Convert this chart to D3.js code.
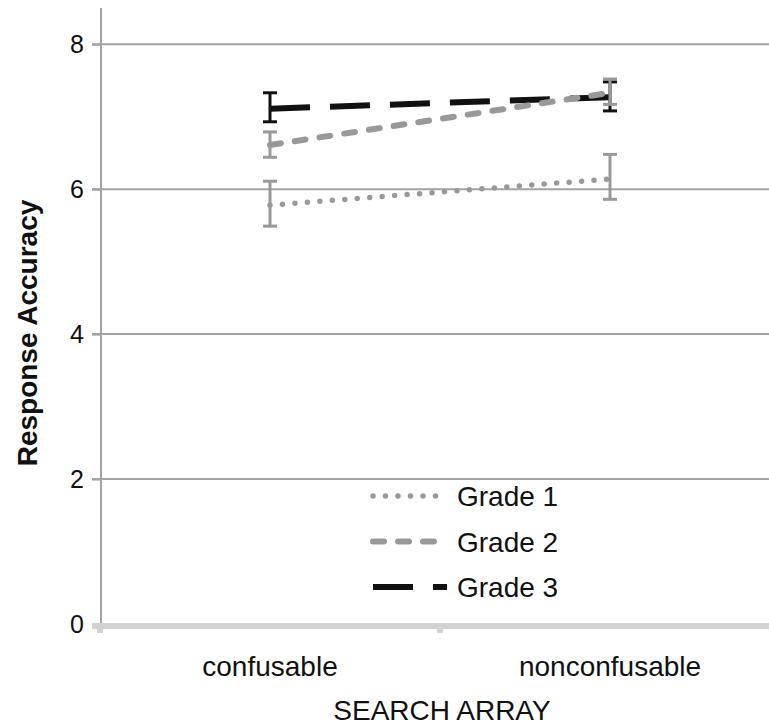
<!DOCTYPE html>
<html>
<head>
<meta charset="utf-8">
<script src="https://cdn.jsdelivr.net/npm/d3@7"></script>
<style>
  body { margin: 0; background: #fff; }
  text { font-family: "Liberation Sans", Arial, sans-serif; }
</style>
</head>
<body>
<div id="chart"></div>
<script>
'use strict';

// data
var categories = ["confusable", "nonconfusable"];
var seriesNames = ["Grade 1", "Grade 2", "Grade 3"];
var grade1 = [5.78, 6.14];
var grade1Lo = [5.49, 5.86];
var grade1Hi = [6.11, 6.48];
var grade2 = [6.61, 7.33];
var grade2Lo = [6.44, 7.17];
var grade2Hi = [6.79, 7.52];
var grade3 = [7.11, 7.27];
var grade3Lo = [6.93, 7.08];
var grade3Hi = [7.33, 7.48];
var yTicks = [0, 2, 4, 6, 8];

var width = 769, height = 726;

var svg = d3.select("#chart").append("svg")
    .attr("width", width)
    .attr("height", height);

var x = d3.scaleBand().domain(categories).range([100, 780]);
var y = d3.scaleLinear().domain([0, 8.5]).range([624, 8]);

// gridlines
svg.append("g")
  .selectAll("line")
  .data(yTicks.filter(function(d) { return d > 0; }))
  .enter().append("line")
    .attr("x1", 92).attr("x2", width)
    .attr("y1", function(d) { return y(d); })
    .attr("y2", function(d) { return y(d); })
    .attr("stroke", "#a3a3a3")
    .attr("stroke-width", 2);

// y axis
var yAxis = svg.append("g")
    .attr("transform", "translate(101,0)")
    .call(d3.axisLeft(y).tickValues(yTicks).tickSize(9).tickPadding(8).tickFormat(d3.format("d")));
yAxis.select(".domain").remove();
yAxis.selectAll(".tick line").attr("stroke", "#a3a3a3").attr("stroke-width", 2);
yAxis.selectAll(".tick text").style("font-size", "25px").attr("fill", "#111");
svg.append("line")
    .attr("x1", 101).attr("x2", 101)
    .attr("y1", y(8.5)).attr("y2", 628)
    .attr("stroke", "#a3a3a3").attr("stroke-width", 2);

// x axis
var xAxis = svg.append("g")
    .attr("transform", "translate(0,626)")
    .call(d3.axisBottom(x).tickSize(0).tickPadding(30));
xAxis.select(".domain").remove();
xAxis.selectAll(".tick text").style("font-size", "28px").attr("fill", "#111");
svg.append("line")
    .attr("x1", 92).attr("x2", width)
    .attr("y1", 626).attr("y2", 626)
    .attr("stroke", "#d2d2d2").attr("stroke-width", 6);
svg.append("g")
  .selectAll("line")
  .data([categories[0], categories[1]])
  .enter().append("line")
    .attr("x1", function(d) { return x(d); })
    .attr("x2", function(d) { return x(d); })
    .attr("y1", 626).attr("y2", 633)
    .attr("stroke", "#d2d2d2").attr("stroke-width", 6);

// axis titles
svg.append("text")
    .attr("x", 442).attr("y", 720)
    .attr("text-anchor", "middle")
    .style("font-size", "28px")
    .attr("fill", "#111")
    .text("SEARCH ARRAY");

svg.append("text")
    .attr("transform", "translate(37,333) rotate(-90)")
    .attr("text-anchor", "middle")
    .style("font-size", "28px")
    .style("font-weight", "bold")
    .attr("fill", "#111")
    .text("Response Accuracy");

// series
var series = [
  { name: seriesNames[2], vals: grade3, lo: grade3Lo, hi: grade3Hi, color: "#111", err: "#111", width: 6, dash: "40 20", cap: "butt" },
  { name: seriesNames[1], vals: grade2, lo: grade2Lo, hi: grade2Hi, color: "#999", err: "#999", width: 6, dash: "11 14", cap: "round" },
  { name: seriesNames[0], vals: grade1, lo: grade1Lo, hi: grade1Hi, color: "#999", err: "#999", width: 5.5, dash: "0 12.5", cap: "round" }
];

var cx = function(i) { return x(categories[i]) + x.bandwidth() / 2; };
var line = d3.line()
    .x(function(d, i) { return cx(i); })
    .y(function(d) { return y(d); });

series.forEach(function(s) {
  var g = svg.append("g");
  // error bars
  s.vals.forEach(function(v, i) {
    g.append("line")
      .attr("x1", cx(i)).attr("x2", cx(i))
      .attr("y1", y(s.lo[i])).attr("y2", y(s.hi[i]))
      .attr("stroke", s.err).attr("stroke-width", 3);
    [s.lo[i], s.hi[i]].forEach(function(e) {
      g.append("line")
        .attr("x1", cx(i) - 7).attr("x2", cx(i) + 7)
        .attr("y1", y(e)).attr("y2", y(e))
        .attr("stroke", s.err).attr("stroke-width", 3);
    });
  });
  g.append("path")
    .datum(s.vals)
    .attr("d", line)
    .attr("fill", "none")
    .attr("stroke", s.color)
    .attr("stroke-width", s.width)
    .attr("stroke-dasharray", s.dash)
    .attr("stroke-linecap", s.cap);
});

// legend
var legend = svg.append("g");
var legendItems = series.slice().reverse();
legendItems.forEach(function(s, i) {
  var ly = 496 + i * 45.5;
  legend.append("line")
    .attr("x1", 373).attr("x2", 447)
    .attr("y1", ly).attr("y2", ly)
    .attr("stroke", s.color)
    .attr("stroke-width", s.width)
    .attr("stroke-dasharray", s.dash)
    .attr("stroke-linecap", s.cap);
  legend.append("text")
    .attr("x", 457).attr("y", ly + 10)
    .style("font-size", "28px")
    .attr("fill", "#111")
    .text(s.name);
});
</script>
</body>
</html>
